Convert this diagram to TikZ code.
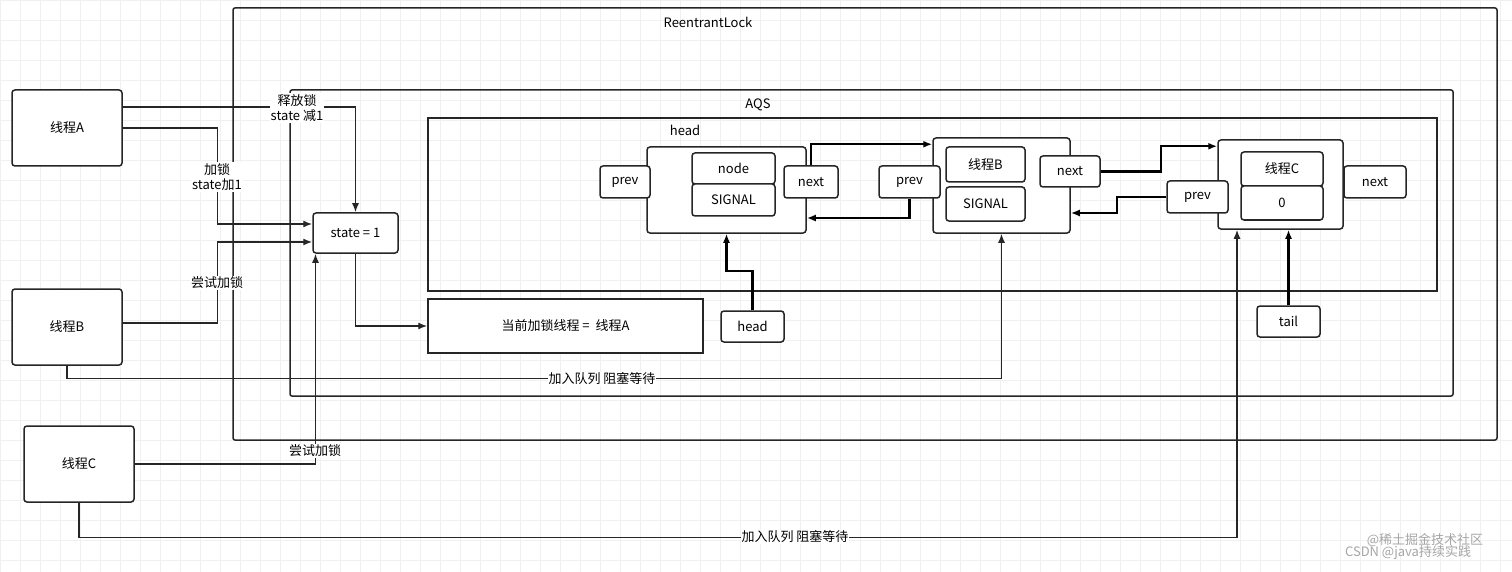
\documentclass[tikz,border=0pt]{standalone}
\usepackage{fontspec}
\setmainfont{Noto Sans CJK SC}
\usetikzlibrary{arrows.meta,positioning}

\begin{document}
\begin{tikzpicture}[x=1pt,y=-1pt,font=\fontsize{13}{15}\selectfont,
  box/.style={draw=black!85,line width=1.5pt,rounded corners=3pt,fill=white,inner sep=0pt},
  link/.style={-{Latex[length=9pt,width=7pt]},line width=1.4pt,draw=black!85},
  bold/.style={-{Latex[length=9pt,width=7pt]},line width=2.4pt,draw=black},
  lbl/.style={fill=white,inner sep=1pt,align=center},
  gridline/.style={draw=gray!12,line width=0.6pt}]

\useasboundingbox (0,0) rectangle (1512,572);
\fill[white] (0,0) rectangle (1512,572);
\foreach \x in {0,20,...,1500} \draw[gridline] (\x,0) -- (\x,572);
\foreach \y in {0,20,...,560} \draw[gridline] (0,\y) -- (1512,\y);

% containers
\draw[line width=1.5pt,draw=black!85,rounded corners=2pt] (233,8) rectangle (1497,440);
\node (lockname) at (708,22) {ReentrantLock};
\draw[line width=1.5pt,draw=black!85,rounded corners=2pt] (290,90) rectangle (1453,396);
\node (aqsname) at (758,105) {AQS};
\draw[line width=1.5pt,draw=black!85] (428,118) rectangle (1437,291);
\node (qname) at (685,130) {head};

% threads
\node[box,minimum width=110pt,minimum height=76pt] (A) at (67,128) {线程A};
\node[box,minimum width=110pt,minimum height=76pt] (B) at (67,327) {线程B};
\node[box,minimum width=110pt,minimum height=76pt] (C) at (79,464) {线程C};
\node[box,minimum width=85pt,minimum height=40pt] (state) at (355.5,233) {state = 1};
\node[box,rounded corners=0pt,minimum width=275pt,minimum height=54pt] (cur) at (565.5,326) {当前加锁线程 =\ \ 线程A};
\node[box,minimum width=63pt,minimum height=31pt] (headbox) at (752.5,326.5) {head};
\node[box,minimum width=63pt,minimum height=31pt] (tail) at (1288.5,321.5) {tail};

% queue nodes
\node[box,minimum width=159pt,minimum height=86pt] (n1) at (726.5,190) {};
\node[box,minimum width=50pt,minimum height=32pt] (p1) at (625,182) {prev};
\node[box,minimum width=83pt,minimum height=31pt] (data1) at (733.5,168.5) {node};
\node[box,minimum width=83pt,minimum height=32pt] (sig1) at (733.5,200) {SIGNAL};
\node[box,minimum width=54pt,minimum height=32pt] (nx1) at (811,182) {next};

\node[box,minimum width=137pt,minimum height=95pt] (n2) at (1001.5,185.5) {};
\node[box,minimum width=61pt,minimum height=32pt] (p2) at (909.5,182) {prev};
\node[box,minimum width=79pt,minimum height=35pt] (data2) at (985.5,164.5) {线程B};
\node[box,minimum width=79pt,minimum height=34pt] (sig2) at (985.5,204) {SIGNAL};
\node[box,minimum width=60pt,minimum height=31pt] (nx2) at (1070,171.5) {next};

\node[box,minimum width=125pt,minimum height=89pt] (n3) at (1280.5,184.5) {};
\node[box,minimum width=61pt,minimum height=32pt] (p3) at (1197.5,197) {prev};
\node[box,minimum width=82pt,minimum height=34pt] (data3) at (1282,169) {线程C};
\node[box,minimum width=82pt,minimum height=34pt] (sig3) at (1282,203) {0};
\node[box,minimum width=62pt,minimum height=32pt] (nx3) at (1375,182) {next};

% queue links
\draw[bold] (nx1.north) |- ([yshift=-7pt]n2.north west);
\draw[bold] (p2.south) |- ([yshift=-28pt]n1.east);
\draw[bold] (nx2.east) -- ++(60,0) |- ([yshift=-7pt]n3.north west);
\draw[bold] (p3.west) -- ++(-49,0) |- ([yshift=-27.5pt]n2.east);
\draw[bold] (headbox.north) -- ++(0,-39) -| (n1.south);
\draw[bold] (tail.north) -- (tail.north |- n3.south);

% thread links
\draw[link] ([yshift=21pt]A.east) -| (state.north);
\draw[link] (A.east) -- ++(95,0) |- ([yshift=9pt]state.west);
\draw[link] ([yshift=4pt]B.east) -- ++(95,0) |- ([yshift=-9pt]state.west);
\draw[link] (C.east) -| ([xshift=-40pt]state.south);
\draw[link] (state.south) |- (cur.west);
\draw[link] (B.south) -- ++(0,13) -| (n2.south);
\draw[link] (C.south) -- ++(0,35) -| ([xshift=-43.5pt]n3.south);

% labels
\node[lbl] (release) at (297,108) {释放锁\\state 减1};
\node[lbl] (lock) at (217,177) {加锁\\state加1};
\node[lbl] (tryB) at (217,283) {尝试加锁};
\node[lbl] (tryC) at (315,451) {尝试加锁};
\node[lbl] (waitB) at (602,379) {加入队列 阻塞等待};
\node[lbl] (waitC) at (795,537) {加入队列 阻塞等待};
\node[text=gray!70] (mark1) at (1425,540) {@稀土掘金技术社区};
\node[text=gray!70] (mark2) at (1408,553) {CSDN @java持续实践};
\end{tikzpicture}
\end{document}
